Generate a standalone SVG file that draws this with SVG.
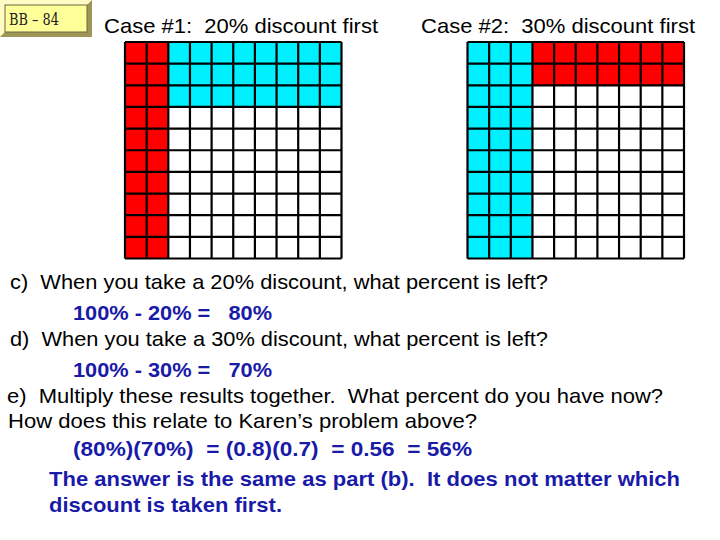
<svg xmlns="http://www.w3.org/2000/svg" width="720" height="540" viewBox="0 0 720 540" xml:space="preserve">
<style>
text{white-space:pre}
.t{font-family:"Liberation Sans",Arial,sans-serif;font-size:21px;fill:#000}
.b{font-family:"Liberation Sans",Arial,sans-serif;font-size:21px;font-weight:bold;fill:#1a1aa8}
.grid{fill:none;stroke:#000;stroke-width:2.2}
.r{fill:#ff0000}.c{fill:#00f0ff}.w{fill:#fff}
</style>
<rect width="720" height="540" fill="#fff"/>
<g id="badge">
<rect x="0" y="0" width="92" height="37" fill="#d6cd86"/>
<polygon points="0,0 92,0 87,5 5,5 5,32 0,37" fill="#fffbc4"/>
<polygon points="92,0 92,37 0,37 5,32 87,32 87,5" fill="#9e9658"/>
<rect x="5" y="5" width="82" height="27" fill="#ffff99" stroke="#6b6640" stroke-width="1"/>
<text x="9" y="25" font-family="'DejaVu Serif',serif" font-size="16" fill="#222" textLength="50" lengthAdjust="spacingAndGlyphs">BB – 84</text>
</g>
<g id="title1"><text class="t" x="104" y="33" textLength="274" lengthAdjust="spacingAndGlyphs">Case #1:  20% discount first</text></g>
<g id="title2"><text class="t" x="421" y="33" textLength="274" lengthAdjust="spacingAndGlyphs">Case #2:  30% discount first</text></g>
<g id="grid1">
<rect class="w" x="125" y="42" width="216.5" height="216.5"/>
<rect class="r" x="125" y="42" width="43.3" height="216.5"/>
<rect class="c" x="168.3" y="42" width="173.2" height="64.95"/>
<path class="grid" d="M125 42V258.5M146.65 42V258.5M168.3 42V258.5M189.95 42V258.5M211.6 42V258.5M233.25 42V258.5M254.9 42V258.5M276.55 42V258.5M298.2 42V258.5M319.85 42V258.5M341.5 42V258.5M125 42H341.5M125 63.65H341.5M125 85.3H341.5M125 106.95H341.5M125 128.6H341.5M125 150.25H341.5M125 171.9H341.5M125 193.55H341.5M125 215.2H341.5M125 236.85H341.5M125 258.5H341.5"/>
</g>
<g id="grid2">
<rect class="w" x="467.5" y="42" width="216.5" height="216.5"/>
<rect class="c" x="467.5" y="42" width="64.95" height="216.5"/>
<rect class="r" x="532.45" y="42" width="151.55" height="43.3"/>
<path class="grid" d="M467.5 42V258.5M489.15 42V258.5M510.8 42V258.5M532.45 42V258.5M554.1 42V258.5M575.75 42V258.5M597.4 42V258.5M619.05 42V258.5M640.7 42V258.5M662.35 42V258.5M684 42V258.5M467.5 42H684M467.5 63.65H684M467.5 85.3H684M467.5 106.95H684M467.5 128.6H684M467.5 150.25H684M467.5 171.9H684M467.5 193.55H684M467.5 215.2H684M467.5 236.85H684M467.5 258.5H684"/>
</g>
<g id="questions">
<text class="t" x="10" y="289" textLength="538" lengthAdjust="spacingAndGlyphs">c)  When you take a 20% discount, what percent is left?</text>
<text class="b" x="73" y="320" textLength="199" lengthAdjust="spacingAndGlyphs">100% - 20% =   80%</text>
<text class="t" x="10" y="346" textLength="538" lengthAdjust="spacingAndGlyphs">d)  When you take a 30% discount, what percent is left?</text>
<text class="b" x="73" y="377" textLength="199" lengthAdjust="spacingAndGlyphs">100% - 30% =   70%</text>
<text class="t" x="7" y="403" textLength="656" lengthAdjust="spacingAndGlyphs">e)  Multiply these results together.  What percent do you have now?</text>
<text class="t" x="8" y="428" textLength="469" lengthAdjust="spacingAndGlyphs">How does this relate to Karen’s problem above?</text>
<text class="b" x="73" y="456" textLength="399" lengthAdjust="spacingAndGlyphs">(80%)(70%)  = (0.8)(0.7)  = 0.56  = 56%</text>
<text class="b" x="49" y="486" textLength="631" lengthAdjust="spacingAndGlyphs">The answer is the same as part (b).  It does not matter which</text>
<text class="b" x="49" y="512" textLength="233" lengthAdjust="spacingAndGlyphs">discount is taken first.</text>
</g>
</svg>
